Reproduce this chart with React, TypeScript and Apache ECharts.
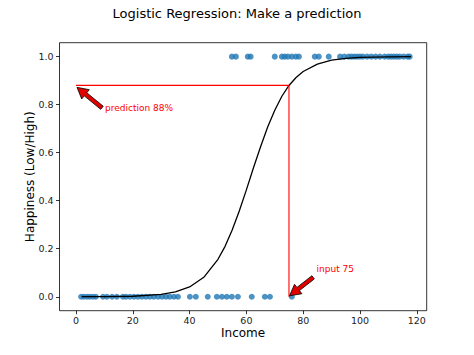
import React, { useEffect, useRef } from "react";
import * as echarts from "echarts";

const lowIncome = [1.8, 2.8, 3.9, 4.9, 6, 7, 9.5, 10.9, 12.7, 14.4, 16.5, 17.6, 19, 20.4, 21.8, 23.2, 24.6, 26, 27.4, 28.9, 30.3, 31.7, 33, 34.5, 35.9, 40.1, 42.2, 46.4, 49.6, 51.4, 53.1, 54.9, 57, 61.9, 66.5, 68.3, 76];
const highIncome = [54.9, 56.3, 60.5, 61.5, 70, 72.5, 73.5, 74.6, 76, 77.4, 78.5, 84.1, 85.5, 89, 93, 94.5, 96, 97, 98, 99, 100, 101, 102.5, 104, 105.5, 107, 108.7, 110, 111, 112, 113, 114, 115.4, 116.8, 117.5];

const curveX = [2, 10, 20, 30, 35, 40, 45, 50, 52.5, 55, 57.5, 60, 62.5, 65, 67.5, 70, 72.5, 75, 77.5, 80, 85, 90, 95, 100, 110, 118];
const curveY = [0.0002, 0.0005, 0.0022, 0.0097, 0.02, 0.041, 0.081, 0.156, 0.21, 0.278, 0.357, 0.445, 0.537, 0.625, 0.707, 0.777, 0.835, 0.88, 0.913, 0.938, 0.969, 0.985, 0.993, 0.9965, 0.999, 0.9998];

const inputIncome = 75;
const predicted = 0.88;

const xTicks = [0, 20, 40, 60, 80, 100, 120];
const yTicks = [0, 0.2, 0.4, 0.6, 0.8, 1.0];

const annotations = [
  { text: "prediction 88%", textX: 10.2, textY: 0.766, tailX: 9.15, tailY: 0.787, headX: 0.35, headY: 0.872 },
  { text: "input 75", textX: 84.7, textY: 0.096, tailX: 83.5, tailY: 0.081, headX: 75.2, headY: 0.004 },
];

const FONT = "DejaVu Sans";

export default function App() {
  const ref = useRef<HTMLDivElement>(null);
  useEffect(() => {
    if (!ref.current) return;
    const chart = echarts.init(ref.current, undefined, { renderer: "svg" });
    const option: any = {
      animation: false,
      backgroundColor: "#fff",
      title: {
        text: "Logistic Regression: Make a prediction",
        left: "center",
        top: 2,
        textStyle: { fontFamily: FONT, fontSize: 13, fontWeight: "normal", color: "#000" },
      },
      grid: {
        left: 59.5,
        right: 47.3,
        top: 42.7,
        bottom: 44.3,
        show: true,
        borderColor: "#000",
        borderWidth: 0.8,
        backgroundColor: "transparent",
      },
      xAxis: {
        type: "value",
        min: -5.81,
        max: 123.5,
        name: "Income",
        nameLocation: "middle",
        nameGap: 16,
        nameMoveOverlap: false,
        nameTextStyle: { fontFamily: FONT, fontSize: 12, color: "#000" },
        axisLine: { show: false, onZero: false },
        axisTick: { show: true, length: 3.5, customValues: xTicks, lineStyle: { color: "#000", width: 0.8 } },
        axisLabel: { customValues: xTicks, fontFamily: FONT, fontSize: 9.5, color: "#222", margin: 5 },
        splitLine: { show: false },
      },
      yAxis: {
        type: "value",
        min: -0.058,
        max: 1.058,
        name: "Happiness (Low/High)",
        nameLocation: "middle",
        nameGap: 24,
        nameMoveOverlap: false,
        nameTextStyle: { fontFamily: FONT, fontSize: 12, color: "#000" },
        axisLine: { show: false, onZero: false },
        axisTick: { show: true, length: 3.5, customValues: yTicks, lineStyle: { color: "#000", width: 0.8 } },
        axisLabel: {
          customValues: yTicks,
          fontFamily: FONT,
          fontSize: 9.5,
          color: "#222",
          margin: 6,
          formatter: (v: number) => v.toFixed(1),
        },
        splitLine: { show: false },
      },
      series: [
        {
          type: "scatter",
          data: lowIncome.map((x) => [x, 0]),
          symbolSize: 6,
          itemStyle: { color: "#1f77b4" },
          z: 2,
        },
        {
          type: "scatter",
          data: highIncome.map((x) => [x, 1]),
          symbolSize: 6,
          itemStyle: { color: "#1f77b4" },
          z: 2,
        },
        {
          type: "line",
          data: curveX.map((x, i) => [x, curveY[i]]),
          showSymbol: false,
          symbol: "none",
          lineStyle: { color: "#000", width: 1.3 },
          z: 3,
        },
        {
          type: "line",
          data: [[0, predicted], [inputIncome, predicted]],
          showSymbol: false,
          symbol: "none",
          color: "#ff0000",
          lineStyle: { color: "#ff0000", width: 1.2 },
          z: 4,
        },
        {
          type: "line",
          data: [[inputIncome, predicted], [inputIncome, 0]],
          showSymbol: false,
          symbol: "none",
          color: "#ff0000",
          lineStyle: { color: "#ff0000", width: 1.1 },
          z: 4,
        },
      ],
    };
    chart.setOption(option);

    const graphics: any[] = [];
    annotations.forEach((a) => {
      const T = chart.convertToPixel({ gridIndex: 0 }, [a.tailX, a.tailY]) as number[];
      const H = chart.convertToPixel({ gridIndex: 0 }, [a.headX, a.headY]) as number[];
      const P = chart.convertToPixel({ gridIndex: 0 }, [a.textX, a.textY]) as number[];
      const dx = H[0] - T[0];
      const dy = H[1] - T[1];
      const len = Math.sqrt(dx * dx + dy * dy);
      const ux = dx / len;
      const uy = dy / len;
      const nx = -uy;
      const ny = ux;
      const w = 2;
      const hw = 6;
      const hl = 11;
      const B = [H[0] - ux * hl, H[1] - uy * hl];
      const pts = [
        [T[0] + nx * w, T[1] + ny * w],
        [B[0] + nx * w, B[1] + ny * w],
        [B[0] + nx * hw, B[1] + ny * hw],
        [H[0], H[1]],
        [B[0] - nx * hw, B[1] - ny * hw],
        [B[0] - nx * w, B[1] - ny * w],
        [T[0] - nx * w, T[1] - ny * w],
      ];
      graphics.push({
        type: "polygon",
        shape: { points: pts },
        style: { fill: "#e00000", stroke: "#000", lineWidth: 0.8 },
        z: 10,
      });
      graphics.push({
        type: "text",
        x: P[0],
        y: P[1],
        style: {
          text: a.text,
          fill: "#ff0000",
          fontFamily: FONT,
          fontSize: 9,
          verticalAlign: "bottom",
          align: "left",
        },
        z: 10,
      });
    });
    chart.setOption({ graphic: graphics });

    return () => chart.dispose();
  }, []);
  return <div ref={ref} style={{ position: "fixed", left: 0, top: 0, width: 474, height: 355 }} />;
}
